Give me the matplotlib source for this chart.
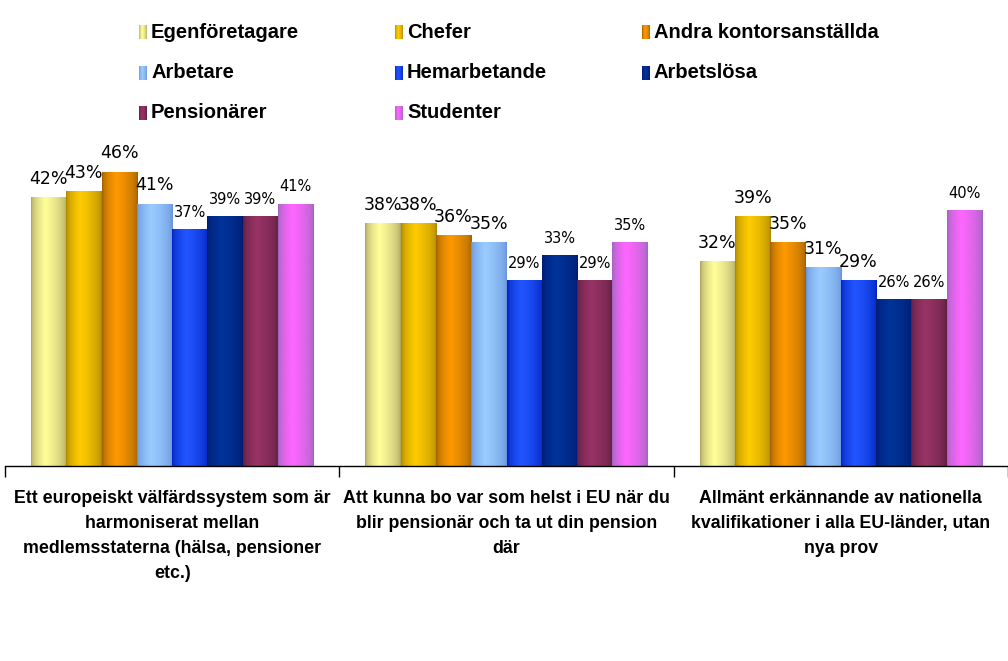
import matplotlib
matplotlib.use("Agg")
import matplotlib.pyplot as plt
import numpy as np
from matplotlib.colors import to_rgb

series = ["Egenföretagare", "Chefer", "Andra kontorsanställda", "Arbetare",
          "Hemarbetande", "Arbetslösa", "Pensionärer", "Studenter"]
categories = [
    "Ett europeiskt välfärdssystem som är\nharmoniserat mellan\nmedlemsstaterna (hälsa, pensioner\netc.)",
    "Att kunna bo var som helst i EU när du\nblir pensionär och ta ut din pension\ndär",
    "Allmänt erkännande av nationella\nkvalifikationer i alla EU-länder, utan\nnya prov",
]
values = [
    [42, 43, 46, 41, 37, 39, 39, 41],
    [38, 38, 36, 35, 29, 33, 29, 35],
    [32, 39, 35, 31, 29, 26, 26, 40],
]
# style: label font sizes (big / small) per bar
label_big = [
    [1, 1, 1, 1, 0, 0, 0, 0],
    [1, 1, 1, 1, 0, 0, 0, 0],
    [1, 1, 1, 1, 1, 0, 0, 0],
]
light = ["#FFFF99", "#FFCC00", "#FF9900", "#99CCFF", "#2255FF", "#003399", "#993366", "#FF66FF"]
dark = ["#A8A060", "#A88400", "#9A5E00", "#6690D8", "#0022BB", "#001A70", "#5A1E3E", "#9966BB"]

W, H = 1008, 661
fig = plt.figure(figsize=(W / 100, H / 100), dpi=100)

def px_rect(x0, y0, x1, y1):
    return [x0 / W, 1 - y1 / H, (x1 - x0) / W, (y1 - y0) / H]

ymax = 50.0
ax = fig.add_axes(px_rect(5, 146.5, 1008, 466))

def gradient(c_light, c_dark, n=64, peak=0.4):
    t = np.linspace(0, 1, n)
    w = np.where(t < peak, t / peak, (1 - t) / (1 - peak))
    w = np.sqrt(np.clip(w, 0, 1))
    l = np.array(to_rgb(c_light)); d = np.array(to_rgb(c_dark))
    cols = d[None, :] * (1 - w[:, None]) + l[None, :] * w[:, None]
    return cols[None, :, :]

bw = 0.1056
margin = (1 - 8 * bw) / 2
for g, vals in enumerate(values):
    for i, v in enumerate(vals):
        x0 = g + margin + i * bw
        ax.imshow(gradient(light[i], dark[i]), extent=[x0, x0 + bw, 0, v],
                  aspect="auto", interpolation="bilinear", zorder=2)
        big = label_big[g][i]
        ax.text(x0 + bw / 2, v + 1.5, f"{v}%", ha="center", va="bottom",
                fontsize=12.5 if big else 10.5, family="DejaVu Sans", color="black", zorder=3)

ax.set_xlim(0, 3)
ax.set_ylim(0, ymax)
for s in ["left", "right", "top"]:
    ax.spines[s].set_visible(False)
ax.spines["bottom"].set_color("black")
ax.spines["bottom"].set_linewidth(1.0)
ax.set_yticks([])
ax.set_xticks([0, 1, 2, 3])
ax.set_xticklabels([])
ax.tick_params(axis="x", direction="out", length=8, width=1, color="black")
ax.patch.set_alpha(0)

for g, c in enumerate(categories):
    ax.text(g + 0.5, -3.8, c, ha="center", va="top", fontsize=12.8,
            fontweight="bold", family="Liberation Sans", linespacing=1.62,
            transform=ax.transData)

# legend
lax = fig.add_axes([0, 0, 1, 1])
lax.axis("off")
cols_x = [139, 395, 642]
rows_y = [32, 73, 113]
for i, name in enumerate(series):
    r, c = divmod(i, 3)
    x, y = cols_x[c], rows_y[r]
    lax.imshow(gradient(light[i], dark[i]), extent=[x, x + 8, y + 7, y - 7],
               aspect="auto", interpolation="bilinear")
    lax.text(x + 12, y, name, ha="left", va="center", fontsize=14.5,
             fontweight="bold", family="Liberation Sans")
lax.set_xlim(0, W)
lax.set_ylim(H, 0)

fig.savefig("out.png", dpi=100, facecolor="white")
